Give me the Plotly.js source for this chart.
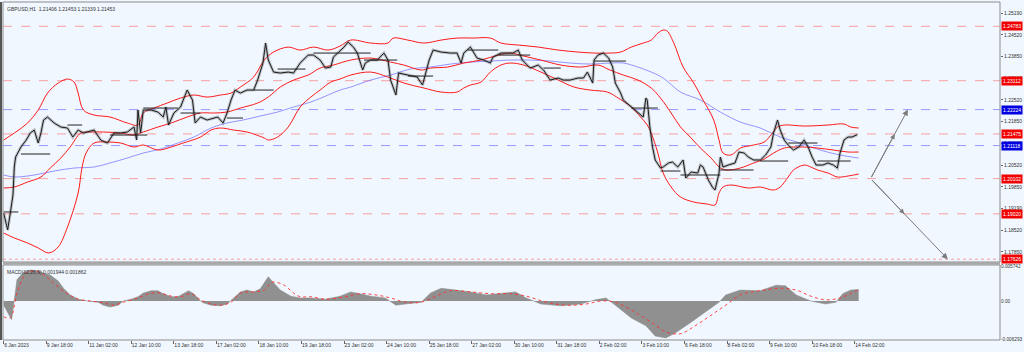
<!DOCTYPE html>
<html><head><meta charset="utf-8">
<script src="https://cdn.plot.ly/plotly-3.0.1.min.js"></script>
<style>html,body{margin:0;padding:0;background:#f0f7fe;}#chart{width:1024px;height:352px;}</style>
</head><body><div id="chart"></div>
<script>
// ---- data (x = hourly bar index from 6 Jan 2023 10:00, weekends skipped) ----
const header = 'GBPUSD,H1  1.21406 1.21453 1.21339 1.21453';
const macdLabel = 'MACD(12,26,9) 0.001944 0.001862';

const xTickIdx = [0,32,64,96,128,160,192,224,256,288,320,352,384,416,448,480,512,544,576,608,640];
const xTickText = ['6 Jan 2023','9 Jan 18:00','11 Jan 02:00','12 Jan 10:00','13 Jan 18:00','17 Jan 02:00','18 Jan 10:00','19 Jan 18:00','23 Jan 02:00','24 Jan 10:00','25 Jan 18:00','27 Jan 02:00','30 Jan 10:00','31 Jan 18:00','2 Feb 02:00','3 Feb 10:00','6 Feb 18:00','8 Feb 02:00','9 Feb 10:00','10 Feb 18:00','14 Feb 02:00'];

const priceTicks = [1.25190,1.24520,1.23850,1.23180,1.22520,1.21850,1.21180,1.20520,1.19850,1.19190,1.18520,1.17850];

const priceIdx = [0,3,5,7,8,9,13,17,20,23,26,28,30,33,38,43,48,52,56,60,68,73,78,83,88,93,98,100,101,103,105,111,116,120,122,124,128,133,138,142,144,148,153,161,165,168,171,174,178,183,188,191,195,197,199,203,208,214,218,223,229,233,238,242,246,248,252,256,259,263,266,270,272,276,281,286,289,291,295,297,304,311,315,317,320,323,329,336,341,344,346,351,356,361,366,368,374,379,383,387,390,396,402,406,411,417,421,426,432,436,439,443,444,447,451,455,458,460,464,466,472,477,481,483,484,486,488,490,494,496,500,503,507,511,513,517,522,524,526,530,533,535,538,539,541,545,550,553,557,560,564,569,573,577,579,582,584,587,590,594,598,602,605,608,611,616,620,624,627,629,632,635,638,642];
const priceClose = [1.19046,1.18523,1.19046,1.19599,1.20459,1.20766,1.21073,1.21288,1.21503,1.21595,1.21196,1.21503,1.21903,1.21995,1.21811,1.21688,1.21657,1.21380,1.21595,1.21503,1.21595,1.21288,1.21196,1.21503,1.21503,1.21534,1.21688,1.21288,1.22210,1.21503,1.22210,1.22210,1.22148,1.21995,1.22302,1.21749,1.22118,1.22302,1.22824,1.22517,1.21811,1.21995,1.21903,1.21995,1.21811,1.22118,1.22517,1.22824,1.22732,1.22824,1.22824,1.23131,1.23654,1.24268,1.23746,1.23377,1.23347,1.23377,1.23347,1.23654,1.23899,1.23899,1.23746,1.23500,1.23531,1.23838,1.23992,1.24145,1.24299,1.24145,1.23961,1.23439,1.23654,1.23746,1.23746,1.23961,1.23746,1.23131,1.22671,1.23347,1.23285,1.23224,1.22978,1.23285,1.23746,1.24053,1.23992,1.23961,1.23961,1.23654,1.23961,1.24145,1.23807,1.23746,1.23654,1.23838,1.23961,1.23961,1.23961,1.24053,1.23746,1.23500,1.23592,1.23439,1.23131,1.23193,1.23131,1.23131,1.23193,1.23193,1.23377,1.23039,1.23746,1.23899,1.23961,1.23807,1.23531,1.23039,1.22732,1.22517,1.22302,1.22148,1.21995,1.22578,1.22517,1.21688,1.21073,1.20674,1.20428,1.20459,1.20582,1.20612,1.20459,1.20674,1.20120,1.20305,1.20274,1.20520,1.20459,1.20059,1.19844,1.19752,1.20274,1.20766,1.20459,1.20520,1.20582,1.20919,1.20889,1.20766,1.20674,1.20674,1.20828,1.21073,1.21503,1.21903,1.21595,1.21288,1.21134,1.20981,1.21073,1.21288,1.21073,1.20766,1.20520,1.20520,1.20582,1.20520,1.20428,1.20889,1.21288,1.21380,1.21380,1.21453];

const bbUpIdx = [0,8,18,26,33,41,48,53,56,60,68,80,93,101,105,113,123,133,143,153,163,171,178,188,196,203,214,223,233,244,253,261,276,289,293,304,316,329,341,353,366,374,387,402,417,432,444,456,464,472,481,487,492,496,499,504,511,519,526,534,538,541,547,554,564,572,577,582,587,602,620,632,637,643];
const bbUpper = [1.21288,1.21503,1.21811,1.22210,1.22732,1.23039,1.23162,1.23070,1.22732,1.22210,1.22056,1.21995,1.21811,1.21749,1.22118,1.22271,1.22425,1.22578,1.22671,1.22609,1.22671,1.22732,1.22916,1.23224,1.23746,1.23992,1.24145,1.24053,1.24145,1.24053,1.24176,1.24360,1.24268,1.24268,1.24422,1.24360,1.24268,1.24360,1.24422,1.24422,1.24422,1.24268,1.24207,1.24145,1.24053,1.23992,1.23961,1.23961,1.23992,1.24145,1.24268,1.24360,1.24575,1.24668,1.24637,1.24268,1.23531,1.23039,1.22517,1.21903,1.21288,1.20889,1.20828,1.21042,1.21134,1.21227,1.21441,1.21687,1.21749,1.21718,1.21749,1.21780,1.21688,1.21657];

const bbMidIdx = [0,8,18,28,35,43,50,58,65,75,88,98,105,116,126,138,148,158,168,178,191,199,208,218,229,238,248,261,276,291,301,314,321,334,346,359,372,381,391,404,419,434,447,456,466,477,487,494,502,509,517,524,532,539,544,554,564,572,579,587,594,602,612,624,635,643];
const bbMiddle = [1.19814,1.19845,1.19998,1.20152,1.20428,1.20735,1.21073,1.21503,1.21534,1.21534,1.21503,1.21442,1.21534,1.21688,1.21811,1.21995,1.22118,1.22118,1.22148,1.22271,1.22425,1.22609,1.22916,1.23131,1.23285,1.23500,1.23592,1.23746,1.23807,1.23684,1.23592,1.23439,1.23500,1.23531,1.23654,1.23746,1.23899,1.23961,1.23869,1.23746,1.23592,1.23531,1.23592,1.23439,1.23285,1.23131,1.22886,1.22578,1.22118,1.21688,1.21350,1.21042,1.20735,1.20428,1.20367,1.20428,1.20582,1.20705,1.20889,1.21042,1.21073,1.21073,1.21042,1.20981,1.20920,1.20920];

const bbLoIdx = [0,8,18,26,34,41,48,56,59,62,68,78,88,98,105,116,126,135,148,156,163,173,183,196,199,206,214,223,231,238,246,253,261,276,289,301,316,329,341,346,351,359,366,374,381,391,404,417,429,441,454,461,472,479,484,487,492,496,502,509,519,529,535,538,541,547,560,569,579,584,590,594,602,607,612,620,627,635,643];
const bbLower = [1.18431,1.18278,1.18124,1.17971,1.17817,1.18001,1.18615,1.19660,1.20459,1.20889,1.21196,1.21227,1.21196,1.21073,1.21135,1.20981,1.21073,1.21196,1.21380,1.21595,1.21657,1.21595,1.21534,1.21350,1.21288,1.21380,1.21688,1.22302,1.22609,1.22824,1.23070,1.23162,1.23285,1.23377,1.23224,1.23039,1.22886,1.22763,1.22763,1.22886,1.22978,1.23070,1.23377,1.23592,1.23654,1.23592,1.23377,1.23131,1.22916,1.22824,1.22763,1.22609,1.22302,1.21995,1.21749,1.21503,1.20889,1.20274,1.19844,1.19537,1.19383,1.19322,1.19292,1.19660,1.19844,1.19906,1.19814,1.19844,1.19752,1.19844,1.20152,1.20367,1.20520,1.20459,1.20367,1.20274,1.20152,1.20182,1.20244];

const maIdx = [0,8,23,38,53,68,80,93,105,118,131,143,156,168,180,193,206,218,231,244,253,261,276,291,306,321,336,351,366,381,396,411,426,441,456,466,477,487,496,509,524,539,554,569,584,599,614,629,643];
const maSlow = [1.20213,1.20152,1.20213,1.20336,1.20428,1.20459,1.20582,1.20735,1.20889,1.21012,1.21196,1.21380,1.21657,1.21811,1.21903,1.22026,1.22148,1.22302,1.22456,1.22671,1.22824,1.22916,1.23131,1.23285,1.23469,1.23531,1.23623,1.23684,1.23715,1.23746,1.23746,1.23715,1.23654,1.23623,1.23654,1.23654,1.23531,1.23377,1.23193,1.22763,1.22517,1.22148,1.21841,1.21657,1.21380,1.21196,1.20981,1.20828,1.20735];

// support / resistance marks (start bar, end bar, level)
const segStart = [0,13,48,80,105,133,168,188,206,233,271,304,349,372,406,444,472,494,509,539,569,590,612];
const segEnd   = [11,35,59,108,131,148,180,203,227,276,296,323,372,396,419,468,492,509,539,564,590,612,637];
const segLevel = [1.19077,1.20858,1.21749,1.21442,1.22271,1.22118,1.21964,1.22824,1.23469,1.23961,1.23746,1.23254,1.24053,1.23899,1.23500,1.23715,1.22271,1.20336,1.20213,1.20367,1.20643,1.21196,1.20643];

// horizontal levels
const redLevels = [1.24783,1.23112,1.21475,1.20102,1.19020];
const blueLevels = [1.22224,1.21118];
const bottomLevel = 1.17626;

// projection arrows
const arrowStart = {idx:652, price:1.20102};
const arrowUp = {idx:680, price:1.22224, via:1.21475};
const arrowDown = {idx:710, price:1.17626, via:1.19020};

// MACD
const histIdx = [0,5,6,8,10,15,20,26,30,35,41,45,50,56,63,71,75,80,86,90,96,101,105,111,116,120,126,131,135,139,143,147,150,156,163,168,173,178,183,188,193,197,199,203,208,216,223,231,242,253,261,268,276,287,295,302,314,321,329,340,351,363,374,385,393,404,419,434,445,453,460,472,483,490,498,505,517,528,538,543,554,569,581,588,596,607,618,626,631,637,643];
const histVal = [-0.0007,-0.0028,-0.0031,0.0002,0.0035,0.0048,0.0051,0.0050,0.0046,0.0043,0.0033,0.0021,0.0010,0.0003,0.0000,-0.0002,-0.0007,-0.0010,-0.0007,0.0000,0.0003,0.0007,0.0013,0.0017,0.0017,0.0012,0.0007,0.0007,0.0012,0.0017,0.0012,0.0002,-0.0003,-0.0007,-0.0008,-0.0005,0.0005,0.0015,0.0018,0.0015,0.0020,0.0033,0.0040,0.0030,0.0018,0.0008,0.0005,0.0005,0.0003,0.0008,0.0015,0.0012,0.0008,0.0005,-0.0007,-0.0005,-0.0002,0.0013,0.0021,0.0018,0.0015,0.0010,0.0012,0.0015,0.0005,-0.0005,-0.0008,-0.0005,0.0002,0.0005,-0.0007,-0.0028,-0.0041,-0.0058,-0.0061,-0.0053,-0.0035,-0.0018,-0.0002,0.0010,0.0018,0.0017,0.0026,0.0025,0.0010,0.0000,-0.0005,-0.0002,0.0012,0.0018,0.0019];
const sigIdx = [0,5,10,15,18,26,33,41,48,56,65,75,83,90,101,111,118,126,133,141,148,156,163,171,178,188,196,202,211,218,223,231,242,257,268,280,291,302,314,325,336,351,366,381,393,408,423,438,449,460,472,487,498,509,520,531,543,554,569,584,596,607,618,629,643];
const sigVal = [-0.0026,-0.0028,0.0013,0.0040,0.0048,0.0048,0.0038,0.0023,0.0012,0.0003,0.0000,-0.0003,-0.0007,-0.0002,0.0005,0.0013,0.0013,0.0008,0.0007,0.0012,0.0002,-0.0005,-0.0007,-0.0002,0.0013,0.0015,0.0018,0.0031,0.0026,0.0013,0.0007,0.0007,0.0003,0.0007,0.0012,0.0010,0.0005,-0.0002,-0.0002,0.0008,0.0017,0.0015,0.0012,0.0012,0.0008,-0.0002,-0.0007,-0.0005,0.0000,-0.0002,-0.0015,-0.0035,-0.0051,-0.0054,-0.0041,-0.0025,-0.0007,0.0010,0.0017,0.0021,0.0018,0.0008,0.0002,0.0005,0.0019];
const macdTicks = [0.005742,0,-0.006293];
const macdTickText = ['0.005742','0.00','-0.006293'];

// ---- build ----
const FONT = 'Liberation Sans, Arial, sans-serif';
const segX = [], segY = [];
segStart.forEach((s,i)=>{ segX.push(s, segEnd[i], null); segY.push(segLevel[i], segLevel[i], null); });

const traces = [
  {x:maIdx, y:maSlow, type:'scatter', mode:'lines', line:{color:'#7b7bff', width:0.8, shape:'spline'}, hoverinfo:'skip'},
  {x:bbUpIdx, y:bbUpper, type:'scatter', mode:'lines', line:{color:'#ff1a1a', width:1, shape:'spline'}, hoverinfo:'skip'},
  {x:bbMidIdx, y:bbMiddle, type:'scatter', mode:'lines', line:{color:'#ff1a1a', width:1, shape:'spline'}, hoverinfo:'skip'},
  {x:bbLoIdx, y:bbLower, type:'scatter', mode:'lines', line:{color:'#ff1a1a', width:1, shape:'spline'}, hoverinfo:'skip'},
  {x:priceIdx, y:priceClose, type:'scatter', mode:'lines', line:{color:'rgba(70,70,70,0.3)', width:3}, hoverinfo:'skip'},
  {x:priceIdx, y:priceClose, type:'scatter', mode:'lines', line:{color:'#1c1c1c', width:1}, hoverinfo:'skip'},
  {x:segX, y:segY, type:'scatter', mode:'lines', line:{color:'#222', width:1}, hoverinfo:'skip'},
  {x:histIdx, y:histVal, type:'scatter', mode:'lines', fill:'tozeroy', fillcolor:'#909090', line:{color:'#8a8a8a', width:0.5}, yaxis:'y2', hoverinfo:'skip'},
  {x:sigIdx, y:sigVal, type:'scatter', mode:'lines', line:{color:'#ff3030', width:0.9, dash:'dot', shape:'spline'}, yaxis:'y2', hoverinfo:'skip'}
];

const shapes = [];
redLevels.forEach(v=>shapes.push({type:'line', xref:'x domain', x0:0, x1:1, yref:'y', y0:v, y1:v, line:{color:'rgba(255,90,90,0.55)', width:1, dash:'dash'}, layer:'below'}));
blueLevels.forEach(v=>shapes.push({type:'line', xref:'x domain', x0:0, x1:1, yref:'y', y0:v, y1:v, line:{color:'rgba(80,80,255,0.55)', width:1, dash:'dash'}, layer:'below'}));
shapes.push({type:'line', xref:'x domain', x0:0, x1:1, yref:'y', y0:bottomLevel, y1:bottomLevel, line:{color:'rgba(255,90,90,0.6)', width:1, dash:'dot'}, layer:'below'});
shapes.push({type:'rect', xref:'paper', x0:0, x1:1, yref:'y domain', y0:0, y1:1, line:{color:'#8c8c8c', width:1}});
shapes.push({type:'rect', xref:'paper', x0:0, x1:1, yref:'y2 domain', y0:0, y1:1, line:{color:'#8c8c8c', width:1}});
shapes.push({type:'rect', xref:'paper', x0:0, x1:1, yref:'paper', y0:0.2225, y1:0.2305, fillcolor:'#a8a8a8', line:{width:0}});
shapes.push({type:'line', xref:'paper', x0:-0.002, x1:-0.002, yref:'paper', y0:0, y1:1, line:{color:'#555', width:2}});

const annotations = [];
annotations.push({xref:'paper', yref:'paper', x:0, y:1, xanchor:'left', yanchor:'top', xshift:2, yshift:-2, text:header, showarrow:false, font:{size:5, color:'#333'}});
annotations.push({xref:'paper', yref:'y2 domain', x:0, y:1, xanchor:'left', yanchor:'top', xshift:2, yshift:-2, text:macdLabel, showarrow:false, font:{size:5, color:'#333'}});
redLevels.concat([bottomLevel]).forEach(v=>annotations.push({xref:'paper', yref:'y', x:1, y:v, xanchor:'left', yanchor:'middle', xshift:1, text:v.toFixed(5), showarrow:false, bgcolor:'#f20000', borderpad:1, font:{size:5, color:'#fff'}}));
blueLevels.forEach(v=>annotations.push({xref:'paper', yref:'y', x:1, y:v, xanchor:'left', yanchor:'middle', xshift:1, text:v.toFixed(5), showarrow:false, bgcolor:'#0000e0', borderpad:1, font:{size:5, color:'#fff'}}));
function viaIdx(a){ return arrowStart.idx + (a.via-arrowStart.price)/(a.price-arrowStart.price)*(a.idx-arrowStart.idx); }
[arrowUp, arrowDown].forEach(a=>{
  annotations.push({x:a.idx, y:a.price, xref:'x', yref:'y', ax:arrowStart.idx, ay:arrowStart.price, axref:'x', ayref:'y', text:'', showarrow:true, arrowhead:2, arrowsize:1.2, arrowwidth:1, arrowcolor:'#7a7a7a'});
  annotations.push({x:viaIdx(a), y:a.via, xref:'x', yref:'y', ax:arrowStart.idx, ay:arrowStart.price, axref:'x', ayref:'y', text:'', showarrow:true, arrowhead:2, arrowsize:1, arrowwidth:1, arrowcolor:'#7a7a7a'});
});

const layout = {
  width:1024, height:352,
  margin:{l:3, r:24, t:2, b:12},
  paper_bgcolor:'#f0f7fe', plot_bgcolor:'#f0f7fe',
  showlegend:false,
  font:{family:FONT, size:5, color:'#333'},
  xaxis:{range:[-0.5,749.3], anchor:'y2', tickvals:xTickIdx, ticktext:xTickText, ticks:'outside', ticklen:3, tickcolor:'#666', ticklabelposition:'outside right', showgrid:false, zeroline:false, showline:false, tickfont:{family:FONT, size:5, color:'#333'}},
  yaxis:{domain:[0.2308,1], range:[1.1754,1.2553], side:'right', tickvals:priceTicks, ticktext:priceTicks.map(v=>v.toFixed(5)), ticks:'outside', ticklen:2, tickcolor:'#666', showgrid:false, zeroline:false, showline:false, tickfont:{family:FONT, size:5, color:'#333'}},
  yaxis2:{domain:[0,0.2219], range:[-0.00644,0.00594], side:'right', tickvals:macdTicks, ticktext:macdTickText, ticks:'', showgrid:false, zeroline:false, showline:false, tickfont:{family:FONT, size:4.7, color:'#333'}},
  shapes:shapes,
  annotations:annotations
};
Plotly.newPlot('chart', traces, layout, {staticPlot:true, displayModeBar:false});
</script></body></html>
